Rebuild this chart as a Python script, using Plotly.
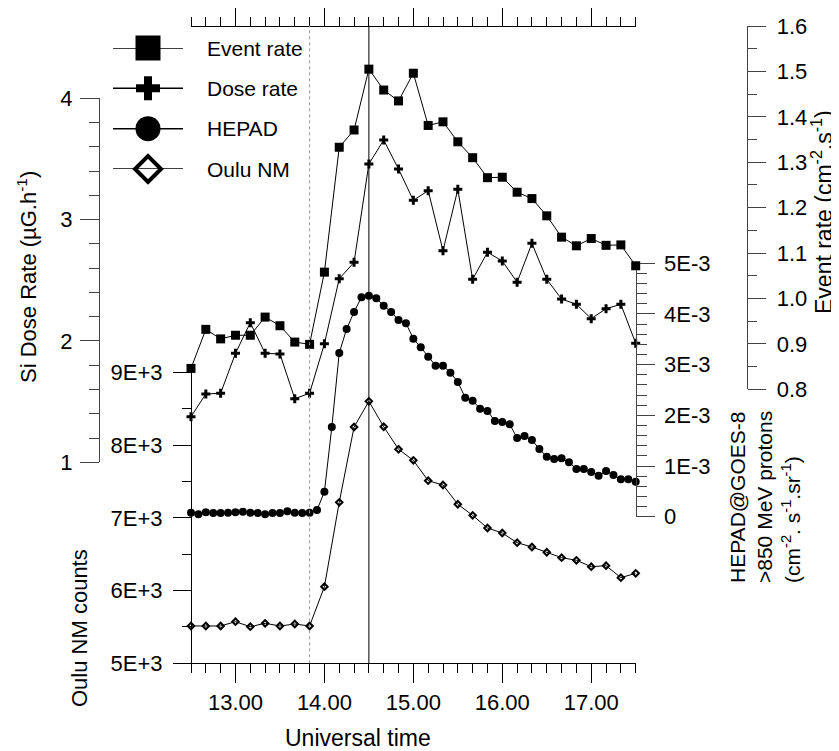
import plotly.graph_objects as go

# target picture size and the page's default body offset
W, H = 839, 751
OFF = 8
FW, FH = W - OFF, H - OFF

# ---------------- data ----------------
# 10-minute time grid (decimal hours, UT)
times10 = [12.5, 12.6667, 12.8333, 13.0, 13.1667, 13.3333, 13.5, 13.6667, 13.8333,
           14.0, 14.1667, 14.3333, 14.5, 14.6667, 14.8333, 15.0, 15.1667, 15.3333,
           15.5, 15.6667, 15.8333, 16.0, 16.1667, 16.3333, 16.5, 16.6667, 16.8333,
           17.0, 17.1667, 17.3333, 17.5]
# 5-minute time grid for HEPAD
times5 = [12.5, 12.5833, 12.6667, 12.75, 12.8333, 12.9167, 13.0, 13.0833, 13.1667,
          13.25, 13.3333, 13.4167, 13.5, 13.5833, 13.6667, 13.75, 13.8333, 13.9167,
          14.0, 14.0833, 14.1667, 14.25, 14.3333, 14.4167, 14.5, 14.5833, 14.6667,
          14.75, 14.8333, 14.9167, 15.0, 15.0833, 15.1667, 15.25, 15.3333, 15.4167,
          15.5, 15.5833, 15.6667, 15.75, 15.8333, 15.9167, 16.0, 16.0833, 16.1667,
          16.25, 16.3333, 16.4167, 16.5, 16.5833, 16.6667, 16.75, 16.8333, 16.9167,
          17.0, 17.0833, 17.1667, 17.25, 17.3333, 17.4167, 17.5]

event_rate = [0.846, 0.932, 0.911, 0.919, 0.919, 0.959, 0.940, 0.904, 0.899,
              1.058, 1.333, 1.371, 1.505, 1.459, 1.435, 1.496, 1.381, 1.389,
              1.345, 1.310, 1.266, 1.267, 1.234, 1.220, 1.182, 1.135, 1.116,
              1.132, 1.117, 1.118, 1.072]

dose_rate = [1.376, 1.563, 1.569, 1.898, 2.151, 1.898, 1.893, 1.524, 1.569,
             1.977, 2.513, 2.648, 3.459, 3.656, 3.417, 3.159, 3.239, 2.744,
             3.250, 2.508, 2.731, 2.659, 2.484, 2.805, 2.508, 2.346, 2.302,
             2.184, 2.266, 2.302, 1.981]

# HEPAD flux in units of 1E-3 (cm-2 s-1 sr-1)
hepad_e3 = [0.079, 0.047, 0.087, 0.073, 0.073, 0.079, 0.087, 0.099, 0.079,
            0.073, 0.047, 0.073, 0.073, 0.107, 0.079, 0.073, 0.079, 0.132,
            0.493, 1.770, 3.231, 3.704, 4.040, 4.330, 4.362, 4.310, 4.164,
            4.040, 3.882, 3.817, 3.513, 3.343, 3.158, 2.980, 2.980, 2.842,
            2.658, 2.349, 2.289, 2.131, 2.086, 1.889, 1.869, 1.824, 1.553,
            1.593, 1.514, 1.336, 1.184, 1.139, 1.153, 1.074, 0.941, 0.941,
            0.882, 0.809, 0.902, 0.823, 0.738, 0.738, 0.691]

oulu_counts = [5513, 5513, 5513, 5572, 5503, 5550, 5513, 5540, 5513,
               6053, 7213, 8248, 8601, 8252, 7942, 7790, 7510, 7451,
               7186, 7034, 6860, 6791, 6658, 6599, 6526, 6452, 6416,
               6328, 6342, 6177, 6237]

x_ticks = [13, 14, 15, 16, 17]
dose_ticks = [1, 2, 3, 4]
oulu_ticks = [5000, 6000, 7000, 8000, 9000]
oulu_ticktext = ["5E+3", "6E+3", "7E+3", "8E+3", "9E+3"]
hepad_ticks = [0, 1, 2, 3, 4, 5]
hepad_ticktext = ["0", "1E-3", "2E-3", "3E-3", "4E-3", "5E-3"]
event_ticks = [0.8, 0.9, 1.0, 1.1, 1.2, 1.3, 1.4, 1.5, 1.6]

marker_lines = [13.8333, 14.5]   # dotted onset line, solid peak line
legend_names = ["Event rate", "Dose rate", "HEPAD", "Oulu NM"]

# ---------------- helpers (picture pixels -> paper fractions) ----------------
def fx(p):
    return (p - OFF) / FW

def fy(p):
    return 1 - (p - OFF) / FH

FONT = "Arial, 'Liberation Sans', sans-serif"
line_style = dict(color="black", width=1)

fig = go.Figure()

fig.add_trace(go.Scatter(x=times10, y=event_rate, xaxis="x", yaxis="y4",
                         mode="lines+markers", line=line_style,
                         marker=dict(symbol="square", size=9, color="black"),
                         cliponaxis=False, showlegend=False))
fig.add_trace(go.Scatter(x=times10, y=dose_rate, xaxis="x", yaxis="y",
                         mode="lines+markers", line=line_style,
                         marker=dict(symbol="cross", size=7.5, color="black"),
                         cliponaxis=False, showlegend=False))
fig.add_trace(go.Scatter(x=times5, y=hepad_e3, xaxis="x", yaxis="y3",
                         mode="lines+markers", line=line_style,
                         marker=dict(symbol="circle", size=8, color="black"),
                         cliponaxis=False, showlegend=False))
fig.add_trace(go.Scatter(x=times10, y=oulu_counts, xaxis="x", yaxis="y2",
                         mode="lines+markers", line=line_style,
                         marker=dict(symbol="diamond-open", size=5, color="black",
                                     line=dict(width=2, color="black")),
                         cliponaxis=False, showlegend=False))
# dummy trace so that the top time axis is drawn
fig.add_trace(go.Scatter(x=[None], y=[None], xaxis="x2", yaxis="y2",
                         showlegend=False, hoverinfo="skip"))

# ---------------- custom legend ----------------
leg_styles = [
    dict(symbol="square", size=25, color="black"),
    dict(symbol="cross", size=20, color="black"),
    dict(symbol="circle", size=25, color="black"),
    dict(symbol="diamond-open", size=20, color="black", line=dict(width=4, color="black")),
]
for i, (name, ms) in enumerate(zip(legend_names, leg_styles)):
    fig.add_trace(go.Scatter(x=[0, 2], y=[i, i], xaxis="x3", yaxis="y5",
                             mode="lines", line=dict(color="black", width=1.5),
                             cliponaxis=False, showlegend=False, hoverinfo="skip"))
    fig.add_trace(go.Scatter(x=[1], y=[i], xaxis="x3", yaxis="y5",
                             mode="markers", marker=ms,
                             cliponaxis=False, showlegend=False, hoverinfo="skip"))
    fig.add_annotation(text=name, xref="paper", yref="y5", x=fx(205), y=i,
                       xanchor="left", yanchor="middle", showarrow=False,
                       font=dict(size=21, color="black", family=FONT))

# ---------------- axes ----------------
xdom = [fx(191), fx(635.7)]
common = dict(showgrid=False, zeroline=False, showline=True, linewidth=1,
              ticks="outside", tickwidth=1, automargin=False,
              tickfont=dict(size=22, color="black", family=FONT))

fig.update_layout(
    width=FW, height=FH, autosize=False,
    margin=dict(l=0, r=0, t=0, b=0),
    paper_bgcolor="white", plot_bgcolor="rgba(0,0,0,0)",
    font=dict(family=FONT, color="black"),
    xaxis=dict(domain=xdom, range=[12.5, 17.5], anchor="free", position=fy(663.3),
               linecolor="black", tickcolor="black", ticklen=19,
               tickvals=x_ticks, tickformat=".2f",
               minor=dict(tick0=12.5, dtick=1 / 6, ticklen=9, ticks="outside",
                          tickcolor="black"),
               **common),
    xaxis2=dict(domain=xdom, range=[12.5, 17.5], anchor="free", position=fy(25.7),
                side="top", linecolor="black", tickcolor="black", ticklen=19,
                tickvals=x_ticks, showticklabels=False,
                minor=dict(tick0=12.5, dtick=1 / 6, ticklen=9, ticks="outside",
                           tickcolor="black"),
                **common),
    yaxis=dict(domain=[fy(462.3), fy(98.3)], range=[1, 4], anchor="free",
               position=fx(99), side="left", linecolor="#444", tickcolor="#444",
               ticklen=19, tickvals=dose_ticks, ticklabelstandoff=3,
               minor=dict(dtick=0.2, ticklen=10, ticks="outside", tickcolor="#444"),
               **common),
    yaxis2=dict(domain=[fy(663.3), fy(372.3)], range=[5000, 9000], anchor="free",
                position=fx(191), side="left", linecolor="black", tickcolor="black",
                ticklen=18, tickvals=oulu_ticks, ticktext=oulu_ticktext,
                ticklabelstandoff=6,
                minor=dict(dtick=500, ticklen=9, ticks="outside", tickcolor="black"),
                **common),
    yaxis3=dict(domain=[fy(516.7), fy(263.3)], range=[0, 5], anchor="free",
                position=fx(635.7), side="right", linecolor="#444", tickcolor="#444",
                ticklen=18, tickvals=hepad_ticks, ticktext=hepad_ticktext,
                ticklabelstandoff=5,
                minor=dict(dtick=0.2, ticklen=10, ticks="outside", tickcolor="#444"),
                **common),
    yaxis4=dict(domain=[fy(389.3), fy(26)], range=[0.8, 1.6], anchor="free",
                position=fx(747.3), side="right", linecolor="#444", tickcolor="#444",
                ticklen=18, tickvals=event_ticks, tickformat=".1f",
                ticklabelstandoff=6,
                minor=dict(dtick=0.05, ticklen=9, ticks="outside", tickcolor="#444"),
                **common),
    xaxis3=dict(domain=[fx(113), fx(183)], range=[0, 2], visible=False,
                anchor="y5"),
    yaxis5=dict(domain=[fy(169), fy(48)], range=[3, 0], visible=False,
                anchor="x3"),
)

# reference lines (onset & peak)
fig.add_shape(type="line", xref="x", yref="paper", x0=marker_lines[0], x1=marker_lines[0],
              y0=fy(663.3), y1=fy(25.7), line=dict(color="#999", width=1, dash="dot"))
fig.add_shape(type="line", xref="x", yref="paper", x0=marker_lines[1], x1=marker_lines[1],
              y0=fy(663.3), y1=fy(25.7), line=dict(color="black", width=1))

# axis titles
title_font = dict(size=22, color="black", family=FONT)
fig.add_annotation(text="Universal time", xref="paper", yref="paper",
                   x=fx(358), y=fy(738), xanchor="center", yanchor="middle",
                   showarrow=False, font=dict(size=23, color="black", family=FONT))
fig.add_annotation(text="Si Dose Rate (µG.h<sup>-1</sup>)", xref="paper", yref="paper",
                   x=fx(27), y=fy(277), textangle=-90, xanchor="center",
                   yanchor="middle", showarrow=False, font=title_font)
fig.add_annotation(text="Oulu NM counts", xref="paper", yref="paper",
                   x=fx(79), y=fy(628), textangle=-90, xanchor="center",
                   yanchor="middle", showarrow=False, font=title_font)
fig.add_annotation(text="Event rate (cm<sup>-2</sup>.s<sup>-1</sup>)", xref="paper",
                   yref="paper", x=fx(822), y=fy(212), textangle=-90,
                   xanchor="center", yanchor="middle", showarrow=False,
                   font=dict(size=23, color="black", family=FONT))
fig.add_annotation(text="HEPAD@GOES-8<br>>850 MeV protons<br>(cm<sup>-2</sup>. s<sup>-1</sup>.sr<sup>-1</sup>)",
                   xref="paper", yref="paper", x=fx(765), y=fy(585), textangle=-90,
                   xanchor="center", yanchor="bottom", align="left", showarrow=False,
                   font=dict(size=21, color="black", family=FONT))

fig.write_html("out.html")
